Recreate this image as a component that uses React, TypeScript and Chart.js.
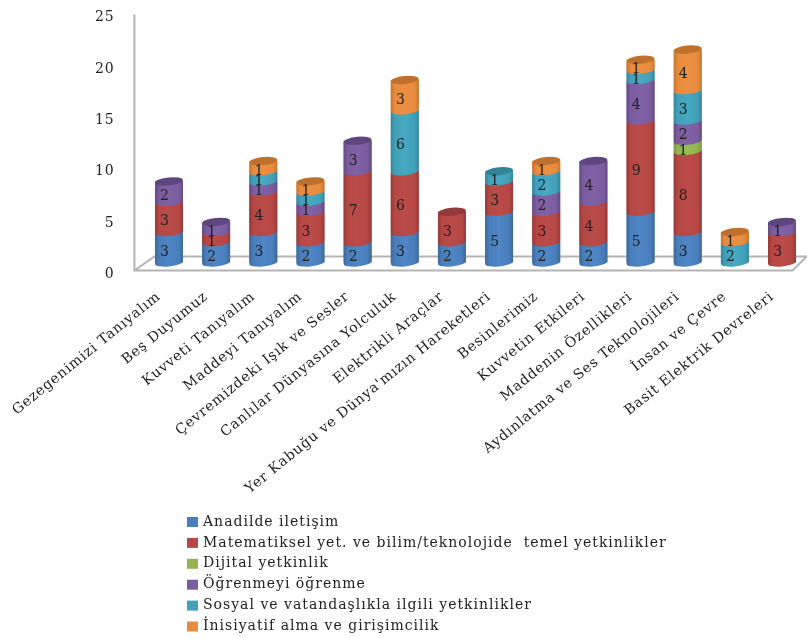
import React, { useEffect, useRef } from "react";
import { Chart, registerables } from "chart.js";

Chart.register(...registerables);

const categories = [
  "Gezegenimizi Tanıyalım",
  "Beş Duyumuz",
  "Kuvveti Tanıyalım",
  "Maddeyi Tanıyalım",
  "Çevremizdeki Işık ve Sesler",
  "Canlılar Dünyasına Yolculuk",
  "Elektrikli Araçlar",
  "Yer Kabuğu ve Dünya'mızın Hareketleri",
  "Besinlerimiz",
  "Kuvvetin Etkileri",
  "Maddenin Özellikleri",
  "Aydınlatma ve Ses Teknolojileri",
  "İnsan ve Çevre",
  "Basit Elektrik Devreleri",
];

const anadilde = [3, 2, 3, 2, 2, 3, 2, 5, 2, 2, 5, 3, 0, 0];
const matematiksel = [3, 1, 4, 3, 7, 6, 3, 3, 3, 4, 9, 8, 0, 3];
const dijital = [0, 0, 0, 0, 0, 0, 0, 0, 0, 0, 0, 1, 0, 0];
const ogrenme = [2, 1, 1, 1, 3, 0, 0, 0, 2, 4, 4, 2, 0, 1];
const sosyal = [0, 0, 1, 1, 0, 6, 0, 1, 2, 0, 1, 3, 2, 0];
const inisiyatif = [0, 0, 1, 1, 0, 3, 0, 0, 1, 0, 1, 4, 1, 0];

const seriesNames = [
  "Anadilde iletişim",
  "Matematiksel yet. ve bilim/teknolojide  temel yetkinlikler",
  "Dijital yetkinlik",
  "Öğrenmeyi öğrenme",
  "Sosyal ve vatandaşlıkla ilgili yetkinlikler",
  "İnisiyatif alma ve girişimcilik",
];
const seriesValues = [anadilde, matematiksel, dijital, ogrenme, sosyal, inisiyatif];

// base, edge shade, highlight, cap
const palette = [
  ["#4a7ebb", "#3d6898", "#4f86c6", "#3c669a"],
  ["#b54744", "#963a38", "#ba4b48", "#93393a"],
  ["#93b44f", "#7c9842", "#9abc54", "#7a963f"],
  ["#7b5c9f", "#644a84", "#8062a6", "#5f467f"],
  ["#42a0b8", "#36879c", "#46a9c2", "#338498"],
  ["#e78b3e", "#c8752f", "#ec8f41", "#bf702c"],
];

const FONT = '"DejaVu Serif", serif';
const RX_TILT = -0.1;
const DEPTH_X = 20;
const DEPTH_Y = 14;

// Canvas state is reset when Chart.js sizes the canvas, so the tracking is set here.
const trackingPlugin = {
  id: "tracking",
  beforeLayout(chart: any) {
    chart.ctx.letterSpacing = "0.8px";
  },
};

// Grey floor and value wall of the pseudo-3D plot box.
const floorPlugin = {
  id: "floor",
  beforeDatasetsDraw(chart: any) {
    const { ctx, chartArea } = chart;
    const axis = chart.scales.yAxis;
    const y0 = axis.getPixelForValue(0) - 1;
    const yTop = axis.getPixelForValue(25);
    const left = chartArea.left - 11;
    const right = chartArea.right - 13;
    ctx.save();
    ctx.strokeStyle = "#b4b4b4";
    ctx.lineWidth = 2;
    ctx.beginPath();
    ctx.moveTo(left, yTop);
    ctx.lineTo(left, y0);
    ctx.lineTo(right, y0);
    ctx.lineTo(right + DEPTH_X * 0.7, y0 - DEPTH_Y);
    ctx.lineTo(left + DEPTH_X, y0 - DEPTH_Y);
    ctx.lineTo(left, y0);
    ctx.stroke();
    ctx.restore();
  },
};

// Turns every stacked bar segment into a slice of a cylinder and writes its value.
const cylinderPlugin = {
  id: "cylinder",
  afterDatasetsDraw(chart: any) {
    const { ctx } = chart;
    const metas = seriesValues.map((_, i) => chart.getDatasetMeta(i));
    const ry = 4;
    categories.forEach((_, c) => {
      let topSeries = -1;
      seriesValues.forEach((vals, s) => {
        if (vals[c] > 0) topSeries = s;
      });
      seriesValues.forEach((vals, s) => {
        if (!vals[c]) return;
        const el = metas[s].data[c];
        const { x, y, base, width } = el.getProps(["x", "y", "base", "width"], true);
        const rx = width / 2;
        const g = ctx.createLinearGradient(x - rx, 0, x + rx, 0);
        g.addColorStop(0, palette[s][1]);
        g.addColorStop(0.15, palette[s][0]);
        g.addColorStop(0.5, palette[s][2]);
        g.addColorStop(0.85, palette[s][0]);
        g.addColorStop(1, palette[s][1]);
        ctx.save();
        ctx.fillStyle = g;
        ctx.beginPath();
        ctx.ellipse(x, base, rx, ry, RX_TILT, Math.PI, 0, true);
        ctx.ellipse(x, y, rx, ry, RX_TILT, 0, Math.PI, false);
        ctx.closePath();
        ctx.fill();
        if (s === topSeries) {
          ctx.fillStyle = palette[s][3];
          ctx.beginPath();
          ctx.ellipse(x, y, rx, ry, RX_TILT, 0, Math.PI * 2);
          ctx.fill();
        }
        ctx.restore();
      });
      seriesValues.forEach((vals, s) => {
        if (!vals[c]) return;
        const el = metas[s].data[c];
        const { x, y, base } = el.getProps(["x", "y", "base"], true);
        ctx.save();
        ctx.fillStyle = "#222222";
        ctx.font = `14px ${FONT}`;
        ctx.textAlign = "center";
        ctx.textBaseline = "middle";
        ctx.fillText(String(vals[c]), x - 4, (y + base) / 2 + 5);
        ctx.restore();
      });
    });
  },
};

// Single-column legend set under the category labels.
const columnLegendPlugin = {
  id: "columnLegend",
  afterDraw(chart: any) {
    const { ctx } = chart;
    ctx.save();
    ctx.letterSpacing = "1px";
    ctx.font = `14px ${FONT}`;
    ctx.textBaseline = "middle";
    ctx.textAlign = "left";
    seriesNames.forEach((name, i) => {
      const y = 522 + i * 20.9;
      ctx.fillStyle = palette[i][0];
      ctx.fillRect(187, y - 5, 11, 10);
      ctx.fillStyle = "#222222";
      ctx.fillText(name, 203, y);
    });
    ctx.restore();
  },
};

export default function App() {
  const ref = useRef<HTMLCanvasElement | null>(null);

  useEffect(() => {
    if (!ref.current) return;
    const chart = new Chart(ref.current, {
      type: "bar",
      data: {
        labels: categories,
        datasets: seriesValues.map((vals, i) => ({
          label: seriesNames[i],
          data: vals,
          backgroundColor: palette[i][0],
          categoryPercentage: 1,
          barPercentage: 0.594,
        })),
      },
      options: {
        animation: false,
        responsive: false,
        layout: { padding: { top: 14.5, right: 1.4, left: 0, bottom: 0 } },
        plugins: { legend: { display: false }, tooltip: { enabled: false } },
        scales: {
          x: {
            stacked: true,
            grid: { display: false },
            border: { display: false },
            afterFit(scale: any) {
              scale.height = 638 - 271.5;
              scale.paddingTop = 0;
              scale.paddingBottom = 0;
            },
            ticks: {
              autoSkip: false,
              minRotation: 39,
              maxRotation: 39,
              padding: 9,
              labelOffset: -10,
              color: "#222222",
              font: { family: FONT, size: 14 },
            },
          },
          // Bars stand on the raised floor, so their scale sits a little above the printed one.
          y: {
            stacked: true,
            display: false,
            min: -0.89,
            max: 24.46,
          },
          yAxis: {
            position: "left",
            min: 0,
            max: 25,
            grid: { display: false },
            border: { display: false },
            afterFit(scale: any) {
              scale.width = 145.4;
              scale.paddingTop = 0;
              scale.paddingBottom = 0;
            },
            ticks: {
              stepSize: 5,
              padding: 23,
              labelOffset: 3,
              color: "#222222",
              font: { family: FONT, size: 14 },
            },
          },
        },
      } as any,
      plugins: [trackingPlugin, floorPlugin, cylinderPlugin, columnLegendPlugin],
    });
    return () => chart.destroy();
  }, []);

  return (
    <div style={{ position: "absolute", left: 0, top: 0, width: 807, height: 638, background: "#fff" }}>
      <canvas ref={ref} width={807} height={638} style={{ display: "block" }} />
    </div>
  );
}
